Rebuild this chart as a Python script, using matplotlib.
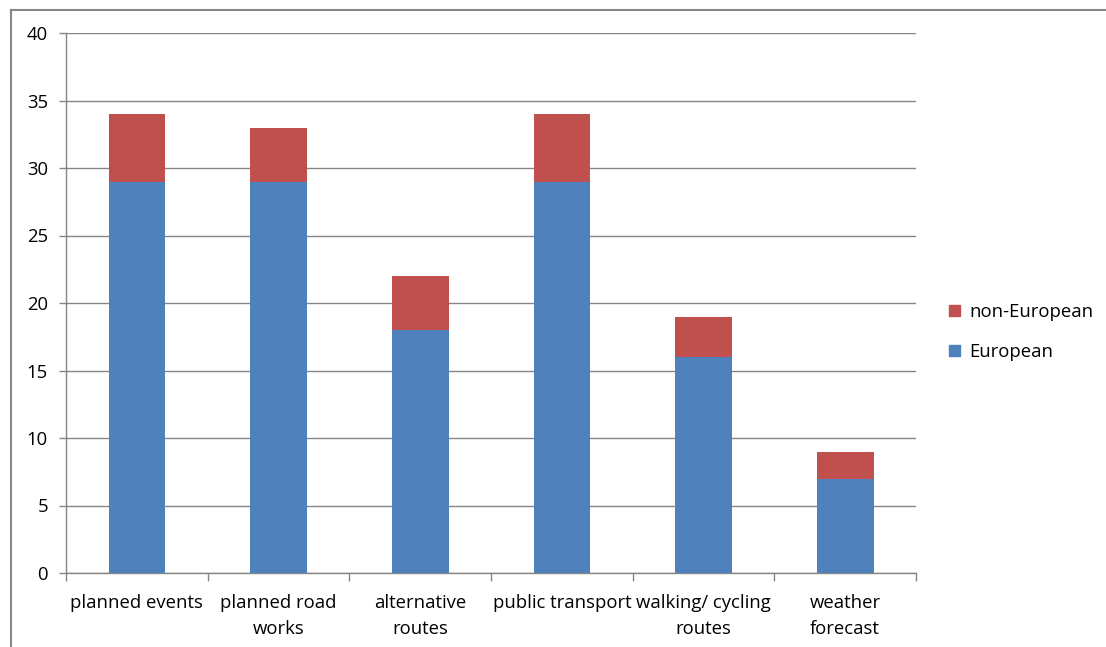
import numpy as np
import matplotlib.pyplot as plt
from matplotlib.lines import Line2D
from matplotlib.patches import Patch

plt.rcParams['font.family'] = ['Open Sans', 'DejaVu Sans']

categories = ['planned events', 'planned road\nworks', 'alternative\nroutes',
              'public transport', 'walking/ cycling\nroutes', 'weather\nforecast']
european = [29, 29, 18, 29, 16, 7]
non_european = [5, 4, 4, 5, 3, 2]

blue = '#4F81BD'
red = '#C0504D'
grey = '#868686'

fig = plt.figure(figsize=(11.06, 6.47), dpi=100)
ax = fig.add_axes([66/1106, 1 - 573/647, 850/1106, 540/647])

x = np.arange(len(categories))
ax.bar(x, european, width=0.40, color=blue, zorder=3)
ax.bar(x, non_european, bottom=european, width=0.40, color=red, zorder=3)

ax.set_xlim(-0.5, len(categories) - 0.5)
ax.set_ylim(0, 40)
ax.set_yticks(range(0, 41, 5))
ax.yaxis.grid(True, color=grey, linewidth=1, zorder=0)

# category labels sit between boundary ticks
ax.set_xticks(x)
ax.set_xticklabels(categories, fontsize=13.3, linespacing=1.55)
ax.set_xticks(np.arange(-0.5, len(categories)), minor=True)
ax.tick_params(axis='x', which='major', length=0, pad=15)
ax.tick_params(axis='x', which='minor', length=6, color=grey, width=1)
ax.tick_params(axis='y', length=5, color=grey, width=1, labelsize=13.3, pad=8)

for side in ['top', 'right']:
    ax.spines[side].set_visible(False)
for side in ['left', 'bottom']:
    ax.spines[side].set_color(grey)
    ax.spines[side].set_linewidth(1)

handles = [Patch(color=red, label='non-European'), Patch(color=blue, label='European')]
fig.legend(handles=handles, loc='center left', bbox_to_anchor=(932/1106, 1 - 332/647),
           frameon=False, fontsize=13.3, handlelength=0.6, handleheight=0.6,
           handletextpad=0.5, labelspacing=1.2)

# outer chart frame
fig.add_artist(Line2D([11/1106, 11/1106], [0, 1 - 10/647], color=grey, lw=1.5,
                      transform=fig.transFigure))
fig.add_artist(Line2D([11/1106, 1], [1 - 10/647, 1 - 10/647], color=grey, lw=1.5,
                      transform=fig.transFigure))

fig.savefig('out.png', dpi=100)
